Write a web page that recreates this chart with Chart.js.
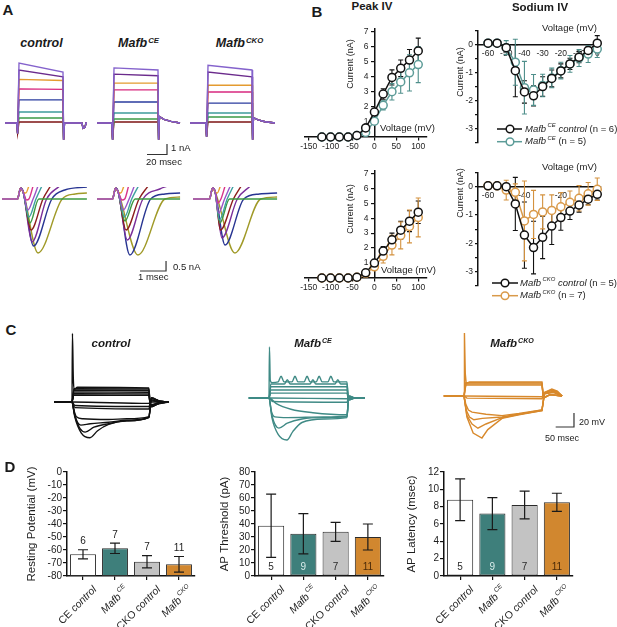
<!DOCTYPE html>
<html><head><meta charset="utf-8">
<script src="https://cdn.jsdelivr.net/npm/chart.js@4.4.1/dist/chart.umd.min.js"></script>
<style>
html,body{margin:0;padding:0;background:#fff;}
#fig{position:relative;width:617px;height:627px;overflow:hidden;font-family:"Liberation Sans",Arial,Helvetica,sans-serif;color:#1a1a1a;}
canvas{position:absolute;}
sup{font-size:62%;vertical-align:0;position:relative;top:-0.55em;margin-left:1px;}
</style></head>
<body><div id="fig"></div>
<script>
// ================= DATA =================
// Panel A (top): K+ step currents, nA at step onset / step end
const A_STEP_MS = 46;
const A_COLORS = ['#8462cc','#6b2b8c','#e49b2f','#d8287f','#2b3d9f','#3f9c9b','#3c9b45','#7d1414'];
const A_CTRL_ON  = [5.7, 5.05, 4.15, 3.25, 2.2, 1.05, 0.48, 0.1];
const A_CTRL_OFF = [4.85, 4.4, 4.05, 3.2, 2.2, 1.05, 0.48, 0.1];
const A_CE_ON    = [5.25, 4.65, 3.8, 3.15, 2.0, 0.95, 0.38, 0.1];
const A_CE_OFF   = [5.05, 4.5, 3.8, 3.15, 2.0, 0.95, 0.38, 0.1];
const A_CKO_ON   = [5.5, 4.85, 3.6, 2.95, 1.9, 0.95, 0.57, 0.1];
const A_CKO_OFF  = [5.05, 4.4, 3.6, 2.95, 1.9, 0.95, 0.57, 0.1];
const A_CTRL_SPIKE = [-1.0, -1.6];
const A_CE_SPIKE   = [-1.6, -1.6];
const A_CKO_SPIKE  = [-1.3, -1.6];
const A_CTRL_TAIL = [[1.5,0],[19,0],[20,-0.5],[22,-0.4],[23,0]];
const A_CE_TAIL   = [[1.5,0.6],[6,0.35],[13,0.15],[22,0]];
const A_CKO_TAIL  = [[1.5,0.5],[6,0.3],[13,0.12],[23,0]];
const A_CTRL_T = [-12, 70];
const A_CE_T   = [-15, 68];
const A_CKO_T  = [-16, 69];

// Panel A (bottom): Na+ currents, keypoints [ms, nA] after the capacitive bump
const NA_COLORS = ['#e8a030','#d8338a','#9a55c8','#3fa0a0','#3d9a42','#8c1c1c','#7a2e9a','#283592','#a09a28'];
const NA_BUMP = [[-0.02,0],[0.1,0.55],[0.2,0.35]];
const NA_CTRL = [
  [[0.3,0.3],[0.42,0.65]],
  [[0.33,-0.05],[0.42,0],[0.58,0.65]],
  [[0.38,-0.55],[0.58,0],[0.77,0.65]],
  [[0.42,-0.9],[0.69,0],[0.92,0.65]],
  [[0.46,-1.2],[0.8,0],[2.65,0]],
  [[0.5,-1.55],[0.96,0],[1.25,0.65]],
  [[0.54,-2.15],[1.1,0],[1.6,0.65]],
  [[0.6,-2.35],[1.3,0],[1.8,0.45],[2.65,0.6]],
  [[0.77,-2.7],[1.7,0],[2.2,0.25],[2.65,0.3]]
];
const NA_CE = [
  [[0.3,0.3],[0.42,0.65]],
  [[0.35,-0.05],[0.45,0],[0.6,0.65]],
  [[0.4,-0.55],[0.62,0],[0.82,0.65]],
  [[0.44,-0.9],[0.72,0],[0.98,0.65]],
  [[0.46,-1.1],[0.85,0],[2.58,0]],
  [[0.5,-1.55],[1.0,0],[1.35,0.65]],
  [[0.55,-2.05],[1.15,0],[1.8,0.5],[2.1,0.65]],
  [[0.65,-2.8],[1.45,0],[2.0,0.25],[2.58,0.3]],
  [[0.96,-2.8],[2.0,0],[2.58,0.1]]
];
const NA_CKO = [
  [[0.28,0.3],[0.4,0.65]],
  [[0.3,-0.2],[0.42,0],[0.58,0.65]],
  [[0.33,-0.7],[0.56,0],[0.78,0.65]],
  [[0.36,-1.05],[0.66,0],[0.9,0.65]],
  [[0.38,-1.2],[0.75,0],[2.58,0]],
  [[0.4,-1.55],[0.9,0],[1.2,0.65]],
  [[0.46,-1.95],[1.05,0],[1.55,0.65]],
  [[0.58,-2.3],[1.3,0],[1.9,0.25],[2.58,0.3]],
  [[0.96,-2.7],[1.95,0],[2.58,0.1]]
];
const NA_T_START = [-0.615, -0.615, -0.654];

// Panel B: Peak IV (nA)
const PEAK_V = [-120,-100,-80,-60,-40,-20,0,20,40,60,80,100];
const PEAK_CE_CTRL     = [0,0,0,0,0.1,0.6,1.65,2.85,3.95,4.55,5.1,5.7];
const PEAK_CE_CTRL_ERR = [0,0,0,0,0.05,0.1,0.2,0.35,0.5,0.55,0.7,0.85];
const PEAK_CE          = [0,0,0,0,0.1,0.3,1.05,2.1,3.0,3.65,4.25,4.8];
const PEAK_CE_ERR      = [0,0,0,0,0.05,0.1,0.15,0.3,0.55,0.75,1.2,1.2];
const PEAK_CKO_CTRL     = [0,0,0,0,0.05,0.35,1.0,1.8,2.55,3.2,3.8,4.4];
const PEAK_CKO_CTRL_ERR = [0,0,0,0,0,0.1,0.15,0.3,0.45,0.6,0.7,0.75];
const PEAK_CKO          = [0,0,0,0,0.05,0.3,0.75,1.45,2.2,2.85,3.45,4.05];
const PEAK_CKO_ERR      = [0,0,0,0,0,0.1,0.2,0.45,0.65,0.9,1.1,1.3];
const PEAK_X_TICKS = [-150,-100,-50,0,50,100];
const PEAK_Y_TICKS = [1,2,3,4,5,6,7];

// Panel B: Sodium IV (nA)
const SOD_V = [-60,-55,-50,-45,-40,-35,-30,-25,-20,-15,-10,-5,0];
const SOD_CE_CTRL     = [0.06,0.06,-0.1,-0.92,-1.68,-1.82,-1.49,-1.2,-0.93,-0.68,-0.44,-0.2,0.06];
const SOD_CE_CTRL_ERR = [0,0,0.05,0.93,0.4,0.36,0.35,0.3,0.25,0.2,0.2,0.15,0.27];
const SOD_CE          = [0.06,0.06,-0.1,-0.62,-1.53,-1.61,-1.45,-1.18,-0.92,-0.68,-0.47,-0.33,-0.15];
const SOD_CE_ERR      = [0,0,0.25,0.82,0.94,0.55,0.4,0.35,0.3,0.3,0.3,0.3,0.3];
const SOD_CKO_CTRL     = [0.03,0.03,0,-0.61,-1.71,-2.15,-1.79,-1.39,-1.09,-0.86,-0.65,-0.44,-0.27];
const SOD_CKO_CTRL_ERR = [0,0,0.05,0.94,1.17,0.93,0.75,0.65,0.45,0.3,0.25,0.2,0.2];
const SOD_CKO          = [0.03,0.03,-0.12,-0.2,-1.21,-0.98,-0.89,-0.84,-0.71,-0.55,-0.41,-0.25,-0.09];
const SOD_CKO_ERR      = [0,0,0.35,0.3,1.41,0.85,0.6,0.55,0.5,0.4,0.45,0.4,0.4];
const SOD_X_TICKS = [-60,-50,-40,-30,-20,-10,0];
const SOD_X_TICKS_BOT = [-60,-40,-20];
const SOD_Y_TICKS = [0.5,0,-0.5,-1,-1.5,-2,-2.5,-3,-3.5];

// Panel C: voltage traces, keypoints [ms, mV]
const C_CTRL = [
  [[-49,-60],[0,-60],[1.2,38],[3.5,-25],[6,-42],[15,-39],[210,-40],[214,-66],[235,-63],[265,-60]],
  [[-49,-60],[0,-60],[5,-41],[210,-41.5],[214,-67],[238,-62],[265,-60]],
  [[-49,-60],[0,-60],[5,-43],[210,-43.5],[214,-67],[238,-62],[265,-60]],
  [[-49,-60],[0,-60],[5,-45.5],[210,-46],[214,-66],[238,-62],[265,-60]],
  [[-49,-60],[0,-60],[5,-48],[210,-48.5],[214,-65],[238,-61],[265,-60]],
  [[-49,-60],[0,-60],[5,-50],[210,-50.5],[214,-64],[238,-61],[265,-60]],
  [[-49,-60],[0,-60],[210,-62],[214,-60],[265,-60]],
  [[-49,-60],[0,-60],[8,-65],[210,-66.5],[216,-58],[240,-60],[265,-60]],
  [[-49,-60],[0,-60],[8,-68],[210,-70],[216,-57],[240,-60],[265,-60]],
  [[-49,-60],[0,-60],[8,-82],[25,-104],[49,-111],[70,-101],[100,-92],[150,-87],[210,-82],[217,-54],[240,-59],[265,-60]],
  [[-49,-60],[0,-60],[8,-80],[22,-98],[36,-103],[60,-96],[100,-91],[150,-87],[210,-82],[217,-54],[240,-59],[265,-60]],
  [[-49,-60],[0,-60],[6,-76],[15,-89],[24,-93],[50,-91],[100,-89],[150,-86],[210,-82],[217,-55],[240,-59],[265,-60]],
  [[-49,-60],[0,-60],[5,-71],[12,-81],[30,-84],[100,-85],[150,-84],[210,-81],[217,-55],[240,-59],[265,-60]]
];
const C_CE = [
  [[-55,-60],[0,-60],[1.2,13],[3.5,-35],[8,-38],[25,-37],[33,-29],[41,-37],[63,-37],[71,-29],[79,-37],[96,-37],[104,-29],[112,-37],[129,-37],[137,-29],[145,-37],[161,-37],[169,-29],[177,-37],[213,-37],[217,-62],[235,-60],[262,-60]],
  [[-55,-60],[0,-60],[5,-40],[42,-40],[50,-34],[58,-40],[112,-40],[120,-34],[128,-40],[180,-40],[188,-34],[196,-40],[213,-40],[217,-62],[235,-60],[262,-60]],
  [[-55,-60],[0,-60],[5,-44],[213,-44],[217,-63],[235,-60],[262,-60]],
  [[-55,-60],[0,-60],[5,-48.5],[213,-48.5],[217,-63],[235,-60],[262,-60]],
  [[-55,-60],[0,-60],[5,-53],[213,-53],[217,-62],[235,-60],[262,-60]],
  [[-55,-60],[0,-60],[213,-61],[217,-60],[262,-60]],
  [[-55,-60],[0,-60],[10,-65],[213,-66],[218,-58],[235,-60],[262,-60]],
  [[-55,-60],[0,-60],[8,-88],[25,-112],[49,-120],[65,-108],[90,-95],[150,-90],[213,-88],[218,-57],[235,-60],[262,-60]],
  [[-55,-60],[0,-60],[8,-85],[27,-103],[50,-96],[90,-90],[150,-88],[213,-87],[218,-57],[235,-60],[262,-60]],
  [[-55,-60],[0,-60],[6,-78],[16,-87],[50,-88],[150,-87],[213,-86],[218,-58],[235,-60],[262,-60]],
  [[-55,-60],[0,-60],[20,-68],[60,-76],[120,-81],[213,-84],[218,-58],[235,-60],[262,-60]]
];
const C_CKO = [
  [[-55,-60],[0,-60],[1.2,30],[3.5,-28],[6,-42],[15,-40],[213,-40],[217,-63],[235,-58],[268,-60]],
  [[-55,-60],[0,-60],[5,-41],[213,-41.5],[217,-63],[235,-58],[268,-60]],
  [[-55,-60],[0,-60],[5,-43],[213,-43],[217,-63],[235,-58],[268,-60]],
  [[-55,-60],[0,-60],[5,-44.5],[213,-44.5],[217,-62],[235,-58],[268,-60]],
  [[-55,-60],[0,-60],[213,-61],[220,-57],[245,-55],[268,-60]],
  [[-55,-60],[0,-60],[8,-63],[213,-64],[220,-56],[245,-54],[268,-60]],
  [[-55,-60],[0,-60],[8,-90],[25,-113],[49,-120],[65,-108],[104,-92],[150,-87],[213,-81],[220,-55],[240,-50],[255,-53],[268,-60]],
  [[-55,-60],[0,-60],[8,-88],[22,-100],[38,-106],[60,-100],[104,-91],[150,-86],[213,-81],[220,-55],[240,-51],[255,-54],[268,-60]],
  [[-55,-60],[0,-60],[6,-80],[15,-90],[27,-94],[50,-92],[104,-90],[150,-86],[213,-80],[220,-56],[240,-52],[255,-54],[268,-60]],
  [[-55,-60],[0,-60],[5,-72],[12,-80],[22,-83],[60,-86],[104,-88],[150,-85],[213,-80],[220,-57],[245,-53],[268,-60]]
];
const C_COLORS = ['#111111','#3f8a85','#d8892c'];

// Panel D: bar charts
const D_CATEGORIES = ['CE control','Mafb CE','CKO control','Mafb CKO'];
const D_COLORS = ['#ffffff','#3e7f7b','#c3c3c3','#d1872f'];
const REST = [-63.3, -58.7, -69, -71];
const REST_ERR = [3.5, 4, 4.7, 6];
const REST_N = [6, 7, 7, 11];
const THRESH = [38.7, 32.5, 34, 30];
const THRESH_ERR = [24.3, 15.5, 7.3, 10];
const THRESH_N = [5, 9, 7, 11];
const LAT = [8.8, 7.2, 8.2, 8.5];
const LAT_ERR = [2.4, 1.85, 1.6, 1.05];
const LAT_N = [5, 9, 7, 11];
const D_COUNT_COLORS = ['#2a2a2a','#d8ecea','#2a2a2a','#4a2a08'];

// ================= HELPERS =================
const FONT = '"Liberation Sans", Arial, Helvetica, sans-serif';
Chart.defaults.font.family = FONT;
Chart.defaults.color = '#1e1e1e';
const fig = document.getElementById('fig');

function mk(b){ const c=document.createElement('canvas'); c.width=b[2]; c.height=b[3];
  Object.assign(c.style,{left:b[0]+'px',top:b[1]+'px',width:b[2]+'px',height:b[3]+'px'}); fig.appendChild(c); return c; }
function txt(html,x,y,size,o={}){ const d=document.createElement('div'); d.innerHTML=html;
  let tr = o.left ? 'translate(0,-50%)' : 'translate(-50%,-50%)'; if(o.rot) tr += ` rotate(${o.rot}deg)`;
  Object.assign(d.style,{position:'absolute',left:x+'px',top:y+'px',fontSize:size+'px',fontWeight:o.bold?'bold':'normal',
    fontStyle:o.italic?'italic':'normal',whiteSpace:'nowrap',lineHeight:'1',transform:tr,color:'#1a1a1a'}); fig.appendChild(d); }
function xRange(box, zeroPx, k){ const mn=(box[0]-zeroPx)/k; return [mn, mn+box[2]/k]; }
function yRange(box, basePx, k, baseVal){ baseVal=baseVal||0; return [baseVal-(box[1]+box[3]-basePx)/k, baseVal+(basePx-box[1])/k]; }
function pts(a){ return a.map(p=>({x:p[0],y:p[1]})); }

function traceChart(box, xr, yr, sets, smooth){
  return new Chart(mk(box), {type:'line',
    data:{datasets: sets.map(s=>({data:pts(s.pts), borderColor:s.color, borderWidth:s.w||1.35, pointRadius:0, order:s.order||0,
      cubicInterpolationMode: smooth?'monotone':'default', tension:0, fill:false}))},
    options:{responsive:false, animation:false, events:[], layout:{padding:0},
      plugins:{legend:{display:false}, tooltip:{enabled:false}},
      scales:{x:{type:'linear',display:false,min:xr[0],max:xr[1]}, y:{type:'linear',display:false,min:yr[0],max:yr[1]}}}});
}

function parseLabel(s){
  const m = s.match(/^Mafb (\S+)(.*)$/);
  if (m){ const parts=[['Mafb','i'],[m[1],'sup']]; let rest=m[2];
    if (rest.startsWith(' control')){ parts.push([' control','i']); rest=rest.slice(8); }
    if (rest) parts.push([rest,'n']); return parts; }
  const k = s.indexOf('control');
  if (k>=0) return [[s.slice(0,k),'n'],['control','i'],[s.slice(k+7),'n']].filter(p=>p[0]);
  return [[s,'n']];
}
function drawRich(ctx, parts, x, y, size, align){
  const fonts = {n:`${size}px ${FONT}`, i:`italic ${size}px ${FONT}`, sup:`italic ${(size*0.62).toFixed(1)}px ${FONT}`};
  const ws = parts.map(p=>{ ctx.font=fonts[p[1]]; return ctx.measureText(p[0]).width + (p[1]==='sup'?1.5:0); });
  const W = ws.reduce((a,b)=>a+b,0);
  let cx = align==='right' ? x-W : x;
  ctx.textAlign='left'; ctx.textBaseline='middle';
  parts.forEach((p,i)=>{ ctx.font=fonts[p[1]]; ctx.fillText(p[0], cx+(p[1]==='sup'?1.5:0), p[1]==='sup'? y-size*0.4 : y); cx+=ws[i]; });
}

function drawErr(chart, after){
  const ctx = chart.ctx;
  chart.data.datasets.forEach((ds,i)=>{
    if (!ds.errors || (!!ds.errorsOnTop)!==after) return;
    const meta = chart.getDatasetMeta(i); const ys = chart.scales[meta.yAxisID];
    ctx.save(); ctx.strokeStyle = ds.errorColor||ds.borderColor; ctx.lineWidth = ds.errorWidth||1.2;
    meta.data.forEach((el,j)=>{ const e=ds.errors[j]; if(!e) return; const m=ds.centers[j];
      const x=el.x, y1=ys.getPixelForValue(m+e), y2=ys.getPixelForValue(m-e), c=ds.capHalf||3;
      ctx.beginPath(); ctx.moveTo(x,y1); ctx.lineTo(x,y2);
      ctx.moveTo(x-c,y1); ctx.lineTo(x+c,y1); ctx.moveTo(x-c,y2); ctx.lineTo(x+c,y2); ctx.stroke(); });
    ctx.restore();
  });
}
const errorBars = {id:'errorBars', beforeDatasetsDraw(c){drawErr(c,false);}, afterDatasetsDraw(c){drawErr(c,true);}};
const countLabels = {id:'countLabels', afterDatasetsDraw(chart){
  const ctx=chart.ctx, ys=chart.scales.y;
  chart.data.datasets.forEach((ds,i)=>{ if(!ds.counts) return; const meta=chart.getDatasetMeta(i);
    meta.data.forEach((el,j)=>{ ctx.save(); ctx.font=`10px ${FONT}`; ctx.textAlign='center'; ctx.fillStyle=ds.countColors[j];
      let y; if(ds.countInside){ ctx.textBaseline='middle'; y=chart.chartArea.bottom-9; }
      else { ctx.textBaseline='bottom'; y=ys.getPixelForValue(ds.centers[j]+ds.errors[j])-3; }
      ctx.fillText(String(ds.counts[j]), el.x, y); ctx.restore(); }); }); }};
const richTicks = {id:'richTicks', afterDraw(chart){
  const xs=chart.scales.x, ctx=chart.ctx;
  chart.data.labels.forEach((lab,i)=>{ const x=xs.getPixelForTick(i); ctx.save(); ctx.fillStyle='#1e1e1e';
    ctx.translate(x+12, xs.top+12); ctx.rotate(-Math.PI/4); drawRich(ctx, parseLabel(lab), 0, 0, 10.5, 'right'); ctx.restore(); }); }};
const richLegend = {id:'richLegend', afterDraw(chart, args, o){
  if(!o || !o.show) return; const ctx=chart.ctx;
  chart.data.datasets.forEach((ds,i)=>{ const y=o.y+i*o.dy; ctx.save(); ctx.strokeStyle=ds.borderColor; ctx.lineWidth=1.5;
    ctx.beginPath(); ctx.moveTo(o.x1,y); ctx.lineTo(o.x2,y); ctx.stroke();
    ctx.beginPath(); ctx.arc(o.cx,y,3.8,0,Math.PI*2); ctx.fillStyle='#fff'; ctx.fill(); ctx.stroke();
    ctx.fillStyle='#1e1e1e'; drawRich(ctx, parseLabel(ds.label), o.tx, y, o.size, 'left'); ctx.restore(); }); }};

function axisBase(){ return {grid:{display:true, drawOnChartArea:false, drawTicks:true, tickLength:3, color:'#111', lineWidth:1.2},
  border:{display:true, color:'#111', width:1.5}, ticks:{font:{size:8.5}, color:'#1e1e1e', padding:2, autoSkip:false, maxRotation:0, minRotation:0}}; }

function ivSet(label, xs, ys, errs, color, errColor){
  return {label, data: xs.map((x,i)=>({x, y:ys[i]})), centers: ys, errors: errs, borderColor: color, backgroundColor:'#fff',
    pointBackgroundColor:'#fff', pointBorderColor: color, pointRadius:4, pointBorderWidth:1.5, borderWidth:1.5,
    errorColor: errColor||color, errorWidth:1.1, capHalf:2.5, clip:false};
}
function ivChart(box, area, xr, yr, xTicks, yTicks, yPos, sets, legend, xLabelFilter, xTickMarks){
  const x = axisBase(), y = axisBase();
  const leftAxis = (yPos === 'left');
  Object.assign(x, {type:'linear', min:xr[0], max:xr[1], position:{y:0},
    afterFit(s){ s.height=0; }, afterBuildTicks(s){ s.ticks = xTicks.map(v=>({value:v})); }});
  if (xLabelFilter) x.ticks.callback = v => xLabelFilter.includes(v) ? String(v) : '';
  if (!xTickMarks){ x.grid.drawTicks=false; x.ticks.padding=4; }
  Object.assign(y, {type:'linear', min:yr[0], max:yr[1], position:yPos,
    afterFit(s){ s.width = leftAxis ? area.l-box[0] : 0; }, afterBuildTicks(s){ s.ticks = yTicks.map(v=>({value:v})); }});
  // centred axes place labels flush on the axis line, so pad them with trailing spaces
  const pad = leftAxis ? '' : '\u2002\u2009';
  y.ticks.callback = v => Number.isInteger(v) ? String(v) + pad : '';
  return new Chart(mk(box), {type:'line', data:{datasets:sets},
    options:{responsive:false, animation:false, events:[],
      layout:{padding:{left: leftAxis ? 0 : area.l-box[0], right:box[0]+box[2]-area.r, top:area.t-box[1], bottom:box[1]+box[3]-area.b}},
      plugins:{legend:{display:false}, tooltip:{enabled:false}, richLegend: legend||{show:false}},
      scales:{x, y}},
    plugins:[errorBars, richLegend]});
}

function barChart(box, area, title, titlePad, ymin, ymax, ystep, vals, errs, counts, inside){
  return new Chart(mk(box), {type:'bar',
    data:{labels:D_CATEGORIES, datasets:[{data: vals.map(v=>[ymin, v]), centers: vals, errors: errs, counts,
      countColors: inside ? D_COUNT_COLORS : ['#1a1a1a','#1a1a1a','#1a1a1a','#1a1a1a'], countInside: inside,
      backgroundColor: D_COLORS, borderColor:'#2b2b2b', borderWidth:1, borderSkipped:false,
      barPercentage:0.81, categoryPercentage:1, errorsOnTop:true, errorColor:'#1a1a1a', errorWidth:1.2, capHalf:5}]},
    options:{responsive:false, animation:false, events:[],
      layout:{padding:{left:0, bottom:0, top:area.t-box[1], right:box[0]+box[2]-area.r}},
      plugins:{legend:{display:false}, tooltip:{enabled:false}},
      scales:{
        x:{type:'category', offset:true, grid:{display:true, offset:false, drawOnChartArea:false, drawTicks:true, tickLength:4, color:'#111', lineWidth:1.2},
           border:{display:true, color:'#111', width:1.5}, ticks:{display:false}, afterFit(s){ s.height = box[1]+box[3]-area.b; }},
        y:{min:ymin, max:ymax, ticks:{stepSize:ystep, autoSkip:false, font:{size:10}, color:'#1e1e1e', padding:1},
           grid:{display:true, drawOnChartArea:false, drawTicks:true, tickLength:4, color:'#111', lineWidth:1.2},
           border:{display:true, color:'#111', width:1.5},
           title:{display:true, text:title, font:{size:11.5}, color:'#1e1e1e', padding:{top:titlePad, bottom:0}},
           afterFit(s){ s.width = area.l-box[0]; }}}},
    plugins:[errorBars, countLabels, richTicks]});
}

// ================= PANEL A top =================
function stepSets(on, off, spike, tail, tr){
  return on.map((v,i)=>{ const p=[[tr[0],0],[-0.3,0],[0.6,spike[0]],[2,v],[A_STEP_MS,off[i]],[A_STEP_MS+0.6,spike[1]]];
    tail.forEach(q=>p.push([A_STEP_MS+q[0], q[1]])); p.push([tr[1],0]); return {pts:p, color:A_COLORS[i]}; });
}
const AT_YR = yRange([0,55,95,110], 123, 10.5);
traceChart([0,55,95,110], xRange([0,55,95,110],17,1), AT_YR, stepSets(A_CTRL_ON,A_CTRL_OFF,A_CTRL_SPIKE,A_CTRL_TAIL,A_CTRL_T), false);
const ceTop = stepSets(A_CE_ON,A_CE_OFF,A_CE_SPIKE,A_CE_TAIL,A_CE_T);
ceTop.push({pts:[[35,-3],[55,-3],[55,-2]], color:'#333', w:1.2});   // 20 ms / 1 nA scale bar
traceChart([95,55,95,110], xRange([95,55,95,110],112,1), AT_YR, ceTop, false);
traceChart([190,55,95,110], xRange([190,55,95,110],206,1), AT_YR, stepSets(A_CKO_ON,A_CKO_OFF,A_CKO_SPIKE,A_CKO_TAIL,A_CKO_T), false);

// ================= PANEL A bottom =================
function naSets(arr, t0){ return arr.map((k,i)=>({pts:[[t0,0], ...NA_BUMP, ...k], color:NA_COLORS[i], w:1.4, order: i===2 ? -1 : 0})); }
const AB_YR = yRange([0,187,92,95], 199, 20);
traceChart([0,187,92,95], xRange([0,187,92,95],18,26), AB_YR, naSets(NA_CTRL, NA_T_START[0]), true);
const ceBot = naSets(NA_CE, NA_T_START[1]);
ceBot.push({pts:[[1.04,-3.6],[2.04,-3.6],[2.04,-3.1]], color:'#333', w:1.2});  // 1 ms / 0.5 nA
traceChart([95,187,92,95], xRange([95,187,92,95],113,26), AB_YR, ceBot, true);
traceChart([190,187,92,95], xRange([190,187,92,95],210,26), AB_YR, naSets(NA_CKO, NA_T_START[2]), true);

// ================= PANEL B =================
const TEAL_L = '#5d9c98', ORANGE_L = '#d99a4a';
ivChart([298,22,160,136], {l:302.5, r:427, t:28.75, b:137}, [-160,120], [0,7.15], PEAK_X_TICKS, PEAK_Y_TICKS, {x:0},
  [ivSet('Mafb CE control', PEAK_V, PEAK_CE_CTRL, PEAK_CE_CTRL_ERR, '#111'), ivSet('Mafb CE', PEAK_V, PEAK_CE, PEAK_CE_ERR, TEAL_L, '#4f8f8b')],
  null, null, true);
ivChart([298,164,160,136], {l:302.5, r:427, t:170.75, b:278}, [-160,120], [0,7.15], PEAK_X_TICKS, PEAK_Y_TICKS, {x:0},
  [ivSet('Mafb CKO control', PEAK_V, PEAK_CKO_CTRL, PEAK_CKO_CTRL_ERR, '#111'), ivSet('Mafb CKO', PEAK_V, PEAK_CKO, PEAK_CKO_ERR, ORANGE_L, '#d4923f')],
  null, null, true);
ivChart([455,18,162,132], {l:478, r:600.9, t:30.85, b:144.05}, [-65.5,2], [-3.5,0.5], SOD_X_TICKS, SOD_Y_TICKS, 'left',
  [ivSet('Mafb CE control (n = 6)', SOD_V, SOD_CE_CTRL, SOD_CE_CTRL_ERR, '#111'), ivSet('Mafb CE (n = 5)', SOD_V, SOD_CE, SOD_CE_ERR, TEAL_L, '#4f8f8b')],
  {show:true, x1:42, x2:67, cx:55, tx:70, y:111, dy:12.7, size:9.5}, null, false);
ivChart([455,160,162,145], {l:478, r:600.9, t:172.55, b:285.75}, [-65.5,2], [-3.5,0.5], SOD_X_TICKS, SOD_Y_TICKS, 'left',
  [ivSet('Mafb CKO control (n = 5)', SOD_V, SOD_CKO_CTRL, SOD_CKO_CTRL_ERR, '#111'), ivSet('Mafb CKO (n = 7)', SOD_V, SOD_CKO, SOD_CKO_ERR, ORANGE_L, '#d4923f')],
  {show:true, x1:37, x2:63, cx:50, tx:65, y:123, dy:12.7, size:9.5}, SOD_X_TICKS_BOT, false);

// ================= PANEL C =================
function cSets(arr, color){ return arr.map(p=>({pts:p, color, w:1.4})); }
const CB1=[40,325,138,122], CB2=[235,325,143,122], CB3=[430,325,152,122];
traceChart(CB1, xRange(CB1,72,0.366), yRange(CB1,402,0.7,-60), cSets(C_CTRL, C_COLORS[0]), true);
traceChart(CB2, xRange(CB2,269,0.366), yRange(CB2,398,0.7,-60), cSets(C_CE, C_COLORS[1]), true);
const ckoC = cSets(C_CKO, C_COLORS[2]);
ckoC.push({pts:[[250.5,-104.3],[300.5,-104.3],[300.5,-84.3]], color:'#333', w:1.2});  // 50 ms / 20 mV
traceChart(CB3, xRange(CB3,464,0.366), yRange(CB3,396,0.7,-60), ckoC, false);

// ================= PANEL D =================
barChart([0,462,205,165], {l:67, r:195, t:472, b:576}, 'Resting Potential (mV)', 25, -80, 0, 10, REST, REST_ERR, REST_N, false);
barChart([205,462,195,165], {l:255, r:384, t:472, b:576}, 'AP Threshold (pA)', 13, 0, 80, 10, THRESH, THRESH_ERR, THRESH_N, true);
barChart([400,462,217,165], {l:444, r:573, t:472, b:576}, 'AP Latency (msec)', 5, 0, 12, 2, LAT, LAT_ERR, LAT_N, true);

// ================= TEXT =================
txt('A', 8, 9, 15, {bold:true});
txt('B', 317, 11, 15, {bold:true});
txt('C', 11, 329, 15, {bold:true});
txt('D', 10, 466, 15, {bold:true});
txt('Peak IV', 372, 7, 11.5, {bold:true});
txt('Sodium IV', 540, 8, 11.5, {bold:true});
txt('control', 41.5, 43, 12.5, {bold:true, italic:true});
txt('Mafb<sup>CE</sup>', 138.5, 43, 12.5, {bold:true, italic:true});
txt('Mafb<sup>CKO</sup>', 239.5, 43, 12.5, {bold:true, italic:true});
txt('1 nA', 171, 148, 9.5, {left:true});
txt('20 msec', 146, 162, 9.5, {left:true});
txt('0.5 nA', 173, 267, 9.5, {left:true});
txt('1 msec', 138, 277, 9.5, {left:true});
txt('Current (nA)', 350, 64, 9, {rot:-90});
txt('Voltage (mV)', 380, 128, 9.5, {left:true});
txt('Current (nA)', 350, 209, 9, {rot:-90});
txt('Voltage (mV)', 381, 270, 9.5, {left:true});
txt('Current (nA)', 460, 72, 9, {rot:-90});
txt('Voltage (mV)', 542, 28, 9.5, {left:true});
txt('Current (nA)', 460, 193, 9, {rot:-90});
txt('Voltage (mV)', 542, 167, 9.5, {left:true});
txt('control', 111, 344, 11.5, {bold:true, italic:true});
txt('Mafb<sup>CE</sup>', 313, 344, 11.5, {bold:true, italic:true});
txt('Mafb<sup>CKO</sup>', 512, 344, 11.5, {bold:true, italic:true});
txt('20 mV', 579, 422, 9, {left:true});
txt('50 msec', 545, 438, 9, {left:true});
</script></body></html>
